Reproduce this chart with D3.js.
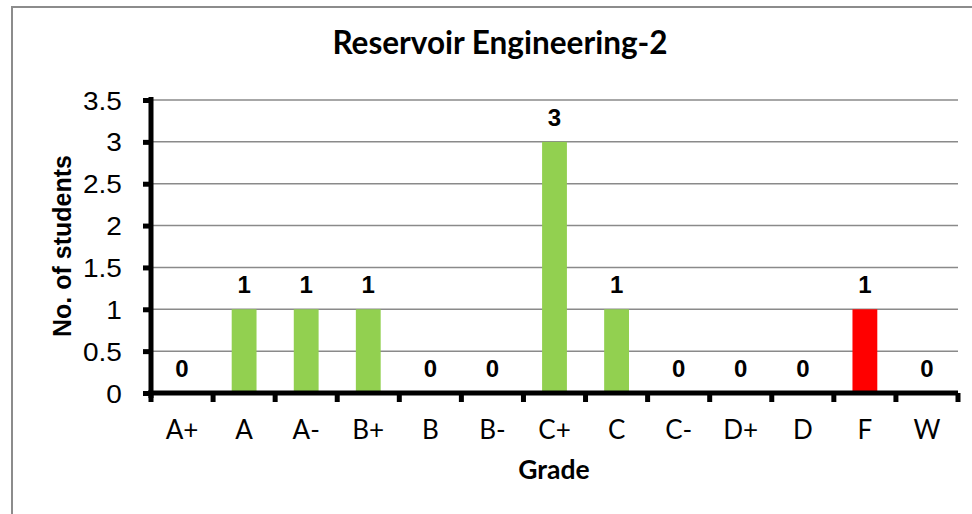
<!DOCTYPE html>
<html>
<head>
<meta charset="utf-8">
<script src="https://cdn.jsdelivr.net/npm/d3@7"></script>
<style>
  body { margin: 0; background: #fff; }
  svg { display: block; }
</style>
</head>
<body>
<div id="chart"></div>
<script>
var grades = ["A+", "A", "A-", "B+", "B", "B-", "C+", "C", "C-", "D+", "D", "F", "W"];
var students = [0, 1, 1, 1, 0, 0, 3, 1, 0, 0, 0, 1, 0];
var barColors = ["#92D050", "#92D050", "#92D050", "#92D050", "#92D050", "#92D050",
                 "#92D050", "#92D050", "#92D050", "#92D050", "#92D050", "#FF0000", "#92D050"];
var yTicks = [0, 0.5, 1, 1.5, 2, 2.5, 3, 3.5];

var width = 972, height = 514;
var plotL = 151, plotR = 958, plotT = 100, plotB = 393;

var svg = d3.select("#chart").append("svg")
  .attr("width", width)
  .attr("height", height);

// chart border
svg.append("rect")
  .attr("x", 12).attr("y", 7)
  .attr("width", 980).attr("height", 540)
  .attr("fill", "none")
  .attr("stroke", "#8c8c8c")
  .attr("stroke-width", 2);

var x = d3.scaleBand().domain(grades).range([plotL, plotR]).paddingInner(0.6).paddingOuter(0.3);
var xb = d3.scaleBand().domain(grades).range([plotL, plotR]);
var y = d3.scaleLinear().domain([0, 3.5]).range([plotB, plotT]);

// gridlines
svg.append("g")
  .selectAll("line")
  .data(yTicks.slice(1))
  .enter()
  .append("line")
  .attr("x1", plotL).attr("x2", plotR)
  .attr("y1", function(d) { return y(d); })
  .attr("y2", function(d) { return y(d); })
  .attr("stroke", "#8a8a8a")
  .attr("stroke-width", 1.5);

// bars
svg.append("g")
  .selectAll("rect")
  .data(students)
  .enter()
  .append("rect")
  .attr("x", function(d, i) { return x(grades[i]); })
  .attr("width", x.bandwidth())
  .attr("y", function(d) { return y(d); })
  .attr("height", function(d) { return y(0) - y(d); })
  .attr("fill", function(d, i) { return barColors[i]; });

// value labels
svg.append("g")
  .selectAll("text")
  .data(students)
  .enter()
  .append("text")
  .attr("x", function(d, i) { return xb(grades[i]) + xb.bandwidth() / 2; })
  .attr("y", function(d) { return y(d) - 16; })
  .attr("text-anchor", "middle")
  .attr("font-family", "'Liberation Sans', Arial, sans-serif")
  .attr("font-weight", "bold")
  .attr("font-size", 24)
  .text(function(d) { return d; });

// y axis
var yAxis = svg.append("g")
  .attr("transform", "translate(" + plotL + ",0)")
  .call(d3.axisLeft(y).tickValues(yTicks).tickSize(8).tickPadding(18)
    .tickFormat(function(d) { return d; }));
yAxis.select(".domain").attr("stroke", "#000").attr("stroke-width", 5)
  .attr("d", "M0," + (plotB + 5) + "V" + (plotT - 3));
yAxis.selectAll(".tick line").attr("stroke", "#000").attr("stroke-width", 5);
yAxis.selectAll(".tick text")
  .style("font-family", "'Liberation Sans', Arial, sans-serif")
  .style("font-size", "25px")
  .attr("dy", "0.36em")
  .attr("fill", "#000")
  .attr("transform", "scale(1.12,1)");

// x axis
var xAxis = svg.append("g")
  .attr("transform", "translate(0," + plotB + ")");
xAxis.append("line")
  .attr("x1", plotL - 3).attr("x2", plotR)
  .attr("y1", 0).attr("y2", 0)
  .attr("stroke", "#000").attr("stroke-width", 5);
xAxis.selectAll("line.tk")
  .data(grades.concat(["end"]))
  .enter()
  .append("line")
  .attr("class", "tk")
  .attr("x1", function(d, i) { return plotL + i * xb.step(); })
  .attr("x2", function(d, i) { return plotL + i * xb.step(); })
  .attr("y1", 0).attr("y2", 9)
  .attr("stroke", "#000").attr("stroke-width", 5);
xAxis.selectAll("text")
  .data(grades)
  .enter()
  .append("text")
  .attr("x", function(d) { return xb(d) + xb.bandwidth() / 2; })
  .attr("y", 46)
  .attr("text-anchor", "middle")
  .style("font-family", "Lato, 'Open Sans', sans-serif")
  .style("font-size", "26px")
  .text(function(d) { return d; });

// titles
svg.append("text")
  .attr("x", 500).attr("y", 54)
  .attr("text-anchor", "middle")
  .style("font-family", "Lato, 'Open Sans', sans-serif")
  .style("font-weight", "bold")
  .style("font-size", "31.5px")
  .text("Reservoir Engineering-2");

svg.append("text")
  .attr("x", 554).attr("y", 479)
  .attr("text-anchor", "middle")
  .style("font-family", "Lato, 'Open Sans', sans-serif")
  .style("font-weight", "bold")
  .style("font-size", "26.5px")
  .text("Grade");

svg.append("text")
  .attr("transform", "translate(71,246) rotate(-90)")
  .attr("text-anchor", "middle")
  .style("font-family", "'Liberation Sans', Arial, sans-serif")
  .style("font-weight", "bold")
  .style("font-size", "25px")
  .text("No. of students");
</script>
</body>
</html>
